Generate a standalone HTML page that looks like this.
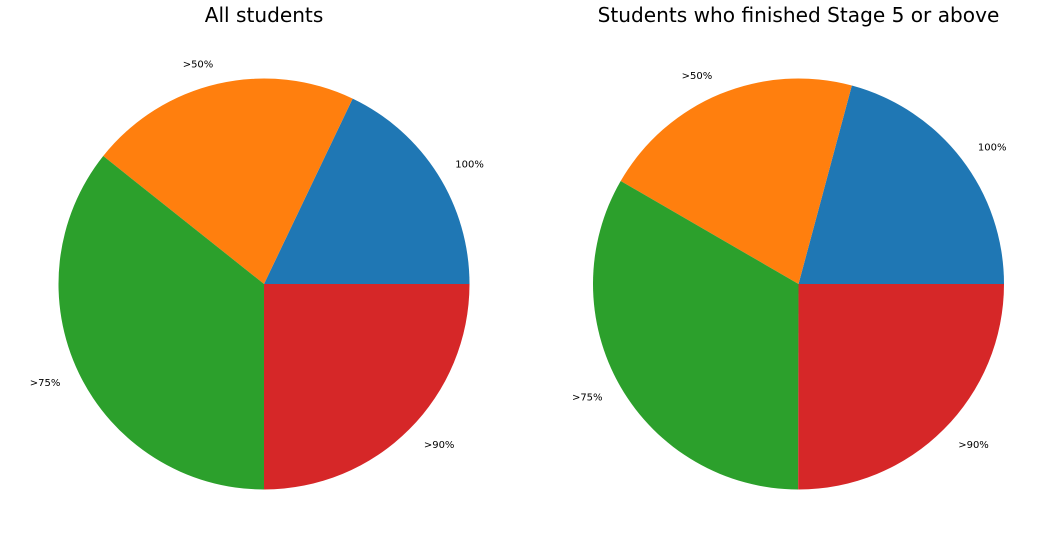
<!DOCTYPE html>
<html>
<head>
<meta charset="utf-8">
<style>
  html, body { margin: 0; padding: 0; background: #ffffff; }
  svg { display: block; font-family: "DejaVu Sans", "Liberation Sans", sans-serif; }
</style>
</head>
<body>
<svg id="chart" width="1062" height="548" viewBox="0 0 1062 548"></svg>
<script>
const categories = ["100%", ">50%", ">75%", ">90%"];
const allStudentsValues = [17.9, 21.4, 35.7, 25.0];
const stage5Values = [20.8, 20.8, 33.3, 25.0];
const titles = ["All students", "Students who finished Stage 5 or above"];
const colors = ["#1f77b4", "#ff7f0e", "#2ca02c", "#d62728"];

const svg = document.getElementById('chart');
const NS = 'http://www.w3.org/2000/svg';

function drawPie(values, cx, cy, r, title, key) {
  const g = document.createElementNS(NS, 'g');
  
  
  svg.appendChild(g);

  const t = document.createElementNS(NS, 'text');
  
  
  t.setAttribute('x', cx);
  t.setAttribute('y', 22);
  t.setAttribute('text-anchor', 'middle');
  t.setAttribute('font-size', '20.1');
  t.setAttribute('fill', '#000');
  t.textContent = title;
  g.appendChild(t);

  const total = values.reduce((a, b) => a + b, 0);
  let start = 0;
  values.forEach((v, i) => {
    const sweep = v / total * 2 * Math.PI;
    const end = start + sweep;
    const x1 = cx + r * Math.cos(start), y1 = cy - r * Math.sin(start);
    const x2 = cx + r * Math.cos(end), y2 = cy - r * Math.sin(end);
    const large = sweep > Math.PI ? 1 : 0;
    const p = document.createElementNS(NS, 'path');
    
    
    p.setAttribute('d', `M${cx},${cy} L${x1},${y1} A${r},${r} 0 ${large} 0 ${x2},${y2} Z`);
    p.setAttribute('fill', colors[i]);
    g.appendChild(p);

    const mid = start + sweep / 2;
    const lx = cx + 1.1 * r * Math.cos(mid), ly = cy - 1.1 * r * Math.sin(mid);
    const lt = document.createElementNS(NS, 'text');
    
    
    lt.setAttribute('x', lx);
    lt.setAttribute('y', ly + 4);
    lt.setAttribute('text-anchor', Math.cos(mid) >= 0 ? 'start' : 'end');
    lt.setAttribute('font-size', '10');
    lt.setAttribute('fill', '#000');
    lt.textContent = categories[i];
    g.appendChild(lt);
    start = end;
  });
}

drawPie(allStudentsValues, 264, 284, 205.5, titles[0], 'all-students');
drawPie(stage5Values, 798.5, 284, 205.5, titles[1], 'stage5');
</script>
</body>
</html>
